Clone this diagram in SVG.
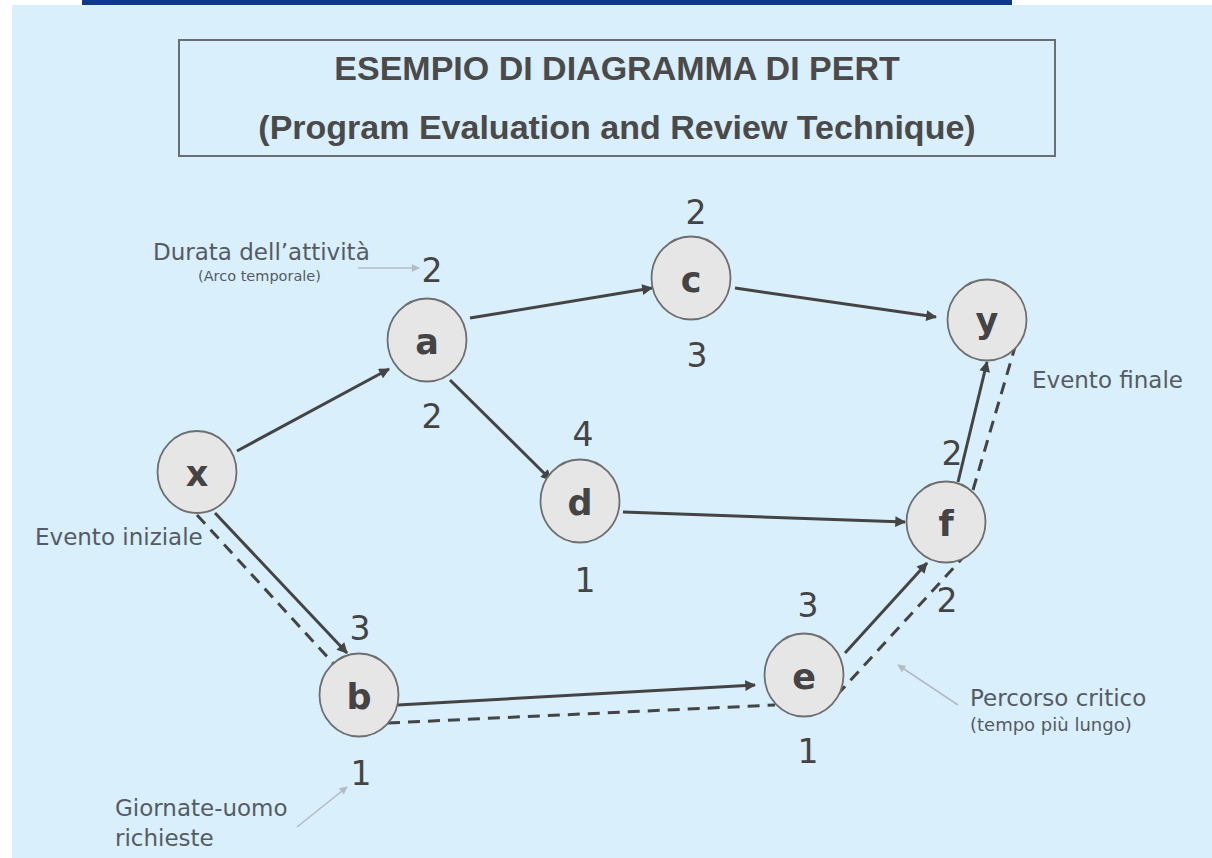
<svg xmlns="http://www.w3.org/2000/svg" width="1212" height="858" viewBox="0 0 1212 858">
  <defs>
    <style>
      .node { fill: #e6e6e6; stroke: #6e6e6e; stroke-width: 1.8; }
      .letter { font-family: "DejaVu Sans", Verdana, sans-serif; font-weight: bold; font-size: 35px; fill: #444; text-anchor: middle; }
      .num { font-family: "DejaVu Sans", Verdana, sans-serif; font-size: 33px; fill: #444; text-anchor: middle; }
      .lbl { font-family: "DejaVu Sans", Verdana, sans-serif; font-size: 23px; fill: #555b63; }
      .title { font-family: "Liberation Sans", Arial, sans-serif; font-weight: bold; font-size: 34px; fill: #4a4a4a; text-anchor: middle; }
      .edge { stroke: #444; stroke-width: 3; fill: none; marker-end: url(#ah); }
      .crit { stroke: #444; stroke-width: 3; fill: none; stroke-dasharray: 12 8; }
      .note { stroke: #b4bcc3; stroke-width: 1.6; fill: none; marker-end: url(#ahl); }
    </style>
    <marker id="ah" viewBox="0 0 10 10" refX="9" refY="5" markerWidth="4" markerHeight="3.6" orient="auto" markerUnits="strokeWidth">
      <path d="M0,0 L10,5 L0,10 z" fill="#444"/>
    </marker>
    <marker id="ahl" viewBox="0 0 10 10" refX="9" refY="5" markerWidth="6" markerHeight="5" orient="auto" markerUnits="strokeWidth">
      <path d="M0,0 L10,5 L0,10 z" fill="#b4bcc3"/>
    </marker>
  </defs>

  <rect x="0" y="0" width="1212" height="858" fill="#ffffff"/>
  <rect x="12" y="5" width="1200" height="853" fill="#d9effc"/>
  <rect x="82" y="0" width="930" height="5" fill="#0d3a8a"/>

  <g id="title">
    <rect x="179" y="40" width="876" height="116" fill="none" stroke="#6b6f73" stroke-width="2"/>
    <text class="title" x="617" y="80">ESEMPIO DI DIAGRAMMA DI PERT</text>
    <text class="title" x="617" y="139">(Program Evaluation and Review Technique)</text>
  </g>

  <g id="connectors">
    <line class="edge" x1="237" y1="451" x2="389" y2="369"/>
    <line class="edge" x1="470" y1="318" x2="652" y2="288"/>
    <line class="edge" x1="735" y1="288" x2="936" y2="317"/>
    <line class="edge" x1="450" y1="380" x2="551" y2="480"/>
    <line class="edge" x1="623" y1="512" x2="905" y2="522"/>
    <line class="edge" x1="215" y1="513" x2="347" y2="653"/>
    <line class="edge" x1="398" y1="705" x2="755" y2="685"/>
    <line class="edge" x1="845" y1="653" x2="927" y2="563"/>
    <line class="edge" x1="958" y1="482" x2="987" y2="362"/>
    <line class="crit" x1="197" y1="515" x2="333" y2="663"/>
    <line class="crit" x1="388" y1="723" x2="775" y2="705"/>
    <line class="crit" x1="837" y1="695" x2="969" y2="551"/>
    <line class="crit" x1="973" y1="490" x2="1015" y2="347"/>
  </g>

  <g id="annotations">
    <line class="note" x1="358" y1="268" x2="419" y2="268"/>
    <line class="note" x1="958" y1="705" x2="898" y2="665"/>
    <line class="note" x1="297" y1="827" x2="347" y2="787"/>
    <text class="lbl" x="153" y="260">Durata dell’attività</text>
    <text class="lbl" x="198" y="281" style="font-size:14.5px">(Arco temporale)</text>
    <text class="lbl" x="35" y="545">Evento iniziale</text>
    <text class="lbl" x="1032" y="388">Evento finale</text>
    <text class="lbl" x="970" y="706">Percorso critico</text>
    <text class="lbl" x="970" y="731" style="font-size:18px">(tempo più lungo)</text>
    <text class="lbl" x="115" y="816">Giornate-uomo</text>
    <text class="lbl" x="115" y="846">richieste</text>
  </g>

  <g id="node-x">
    <ellipse class="node" cx="197" cy="472" rx="39.5" ry="41"/>
    <text class="letter" x="197" y="486">x</text>
  </g>
  <g id="node-a">
    <ellipse class="node" cx="427" cy="340" rx="39.5" ry="41.5"/>
    <text class="letter" x="427" y="354">a</text>
    <text class="num" x="432" y="282">2</text>
    <text class="num" x="432" y="428">2</text>
  </g>
  <g id="node-c">
    <ellipse class="node" cx="691" cy="278" rx="39.5" ry="41.5"/>
    <text class="letter" x="691" y="292">c</text>
    <text class="num" x="696" y="224">2</text>
    <text class="num" x="697" y="367">3</text>
  </g>
  <g id="node-y">
    <ellipse class="node" cx="987" cy="320" rx="39.5" ry="40.5"/>
    <text class="letter" x="987" y="333">y</text>
  </g>
  <g id="node-d">
    <ellipse class="node" cx="580" cy="501" rx="39.5" ry="41.5"/>
    <text class="letter" x="580" y="515">d</text>
    <text class="num" x="583" y="446">4</text>
    <text class="num" x="585" y="592">1</text>
  </g>
  <g id="node-f">
    <ellipse class="node" cx="946" cy="522" rx="39.5" ry="40.5"/>
    <text class="letter" x="946" y="536">f</text>
    <text class="num" x="952" y="465">2</text>
    <text class="num" x="947" y="612">2</text>
  </g>
  <g id="node-b">
    <ellipse class="node" cx="359" cy="695" rx="39.5" ry="41.5"/>
    <text class="letter" x="359" y="709">b</text>
    <text class="num" x="360" y="640">3</text>
    <text class="num" x="361" y="785">1</text>
  </g>
  <g id="node-e">
    <ellipse class="node" cx="804" cy="675" rx="39.5" ry="41.5"/>
    <text class="letter" x="804" y="689">e</text>
    <text class="num" x="808" y="617">3</text>
    <text class="num" x="808" y="763">1</text>
  </g>
</svg>
